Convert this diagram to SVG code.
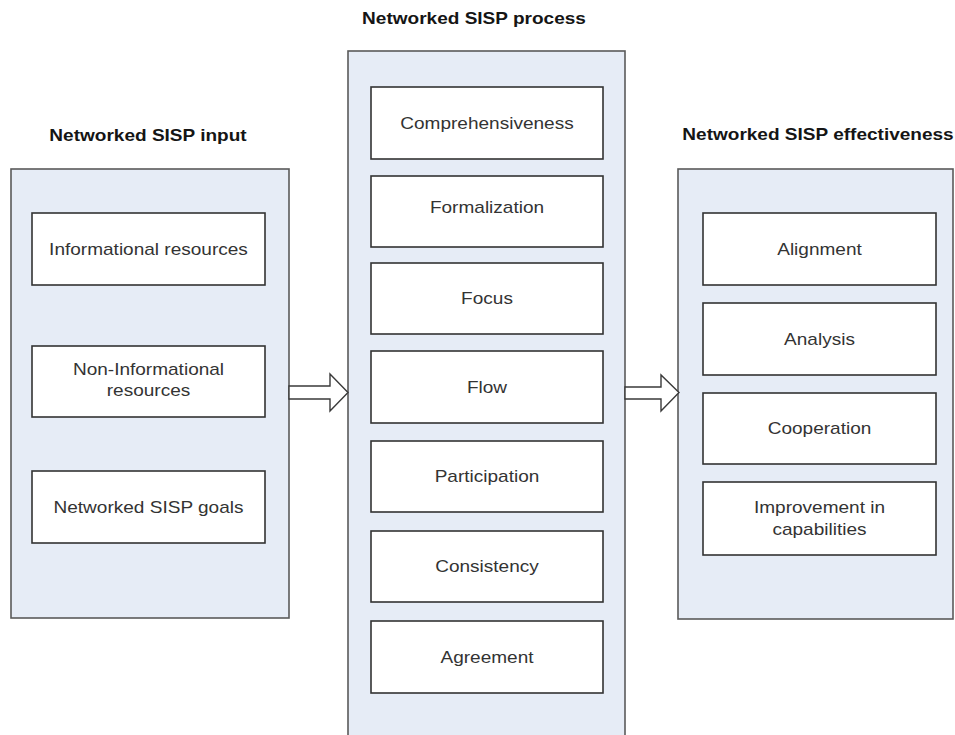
<svg xmlns="http://www.w3.org/2000/svg" width="955" height="735" viewBox="0 0 955 735">
  <style>
    .panel { fill: #e6ecf6; stroke: #5a5a5a; stroke-width: 1.6; }
    .box { fill: #ffffff; stroke: #333333; stroke-width: 1.6; }
    .title { font-family: "Liberation Sans", Arial, sans-serif; font-weight: bold; font-size: 17px; fill: #151515; text-anchor: middle; }
    .label { font-family: "Liberation Sans", Arial, sans-serif; font-size: 17px; fill: #333333; text-anchor: middle; }
    .arrow { fill: #ffffff; stroke: #3a3a3a; stroke-width: 1.4; stroke-linejoin: miter; }
  </style>
  <rect width="955" height="735" fill="#ffffff"/>

  <!-- Input column -->
  <g id="input">
    <g transform="translate(148,141) scale(1.12,1)"><text class="title">Networked SISP input</text></g>
    <rect class="panel" x="11" y="169" width="278" height="449"/>
    <g id="informational-resources">
      <rect class="box" x="32" y="213" width="233" height="72"/>
      <g transform="translate(148.5,255) scale(1.12,1)"><text class="label">Informational resources</text></g>
    </g>
    <g id="non-informational-resources">
      <rect class="box" x="32" y="346" width="233" height="71"/>
      <g transform="translate(148.5,375) scale(1.12,1)"><text class="label">Non-Informational</text></g>
      <g transform="translate(148.5,396) scale(1.12,1)"><text class="label">resources</text></g>
    </g>
    <g id="sisp-goals">
      <rect class="box" x="32" y="471" width="233" height="72"/>
      <g transform="translate(148.5,513) scale(1.12,1)"><text class="label">Networked SISP goals</text></g>
    </g>
  </g>

  <!-- Process column -->
  <g id="process">
    <g transform="translate(474,24) scale(1.12,1)"><text class="title">Networked SISP process</text></g>
    <rect class="panel" x="348" y="51" width="277" height="700"/>
    <g id="comprehensiveness">
      <rect class="box" x="371" y="87" width="232" height="72"/>
      <g transform="translate(487,129) scale(1.12,1)"><text class="label">Comprehensiveness</text></g>
    </g>
    <g id="formalization">
      <rect class="box" x="371" y="176" width="232" height="71"/>
      <g transform="translate(487,213) scale(1.12,1)"><text class="label">Formalization</text></g>
    </g>
    <g id="focus">
      <rect class="box" x="371" y="263" width="232" height="71"/>
      <g transform="translate(487,304) scale(1.12,1)"><text class="label">Focus</text></g>
    </g>
    <g id="flow">
      <rect class="box" x="371" y="351" width="232" height="72"/>
      <g transform="translate(487,393) scale(1.12,1)"><text class="label">Flow</text></g>
    </g>
    <g id="participation">
      <rect class="box" x="371" y="441" width="232" height="71"/>
      <g transform="translate(487,482) scale(1.12,1)"><text class="label">Participation</text></g>
    </g>
    <g id="consistency">
      <rect class="box" x="371" y="531" width="232" height="71"/>
      <g transform="translate(487,572) scale(1.12,1)"><text class="label">Consistency</text></g>
    </g>
    <g id="agreement">
      <rect class="box" x="371" y="621" width="232" height="72"/>
      <g transform="translate(487,663) scale(1.12,1)"><text class="label">Agreement</text></g>
    </g>
  </g>

  <!-- Effectiveness column -->
  <g id="effectiveness">
    <g transform="translate(818,140) scale(1.12,1)"><text class="title">Networked SISP effectiveness</text></g>
    <rect class="panel" x="678" y="169" width="275" height="450"/>
    <g id="alignment">
      <rect class="box" x="703" y="213" width="233" height="72"/>
      <g transform="translate(819.5,255) scale(1.12,1)"><text class="label">Alignment</text></g>
    </g>
    <g id="analysis">
      <rect class="box" x="703" y="303" width="233" height="72"/>
      <g transform="translate(819.5,345) scale(1.12,1)"><text class="label">Analysis</text></g>
    </g>
    <g id="cooperation">
      <rect class="box" x="703" y="393" width="233" height="71"/>
      <g transform="translate(819.5,434) scale(1.12,1)"><text class="label">Cooperation</text></g>
    </g>
    <g id="improvement">
      <rect class="box" x="703" y="482" width="233" height="73"/>
      <g transform="translate(819.5,513) scale(1.12,1)"><text class="label">Improvement in</text></g>
      <g transform="translate(819.5,535) scale(1.12,1)"><text class="label">capabilities</text></g>
    </g>
  </g>

  <!-- Connectors: block arrows between columns -->
  <g id="connectors">
    <polygon class="arrow" points="289,386 330,386 330,374 348,392.5 330,411 330,399 289,399"/>
    <polygon class="arrow" points="625,387 661,387 661,375 679,392.5 661,411 661,399 625,399"/>
  </g>
</svg>
